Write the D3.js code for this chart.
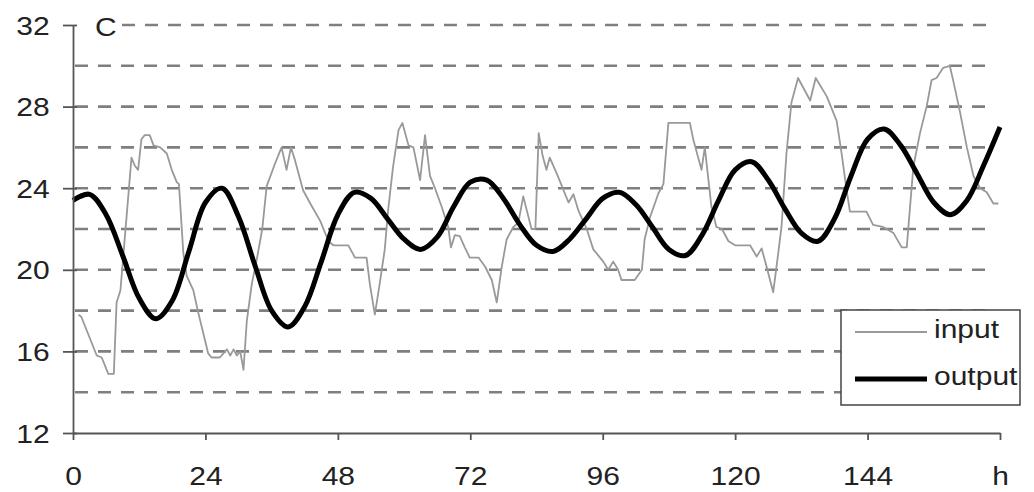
<!DOCTYPE html>
<html>
<head>
<meta charset="utf-8">
<script src="https://cdn.jsdelivr.net/npm/d3@7"></script>
<style>
    body { margin: 0; background: #fff; }
    svg { display: block; }
    text { font-family: "Liberation Sans", Arial, sans-serif; fill: #222; }
</style>
</head>
<body>
<div class="chart"></div>
<script>
// input temperature (hour, C)
const inputHours = [1.0, 1.5, 4.3, 5.2, 6.4, 7.4, 7.9, 8.6, 10.6, 11.2, 11.8, 12.4, 13.0, 13.9, 14.6, 15.8, 17.0, 17.9, 18.8, 19.2,
    20.0, 20.6, 21.8, 22.7, 23.6, 24.5, 25.1, 26.6, 27.9, 28.5, 29.1, 29.7, 30.3, 30.9, 31.5, 32.4, 33.3, 34.3, 35.1, 36.6,
    37.8, 38.7, 39.5, 40.2, 41.7, 43.0, 44.8, 46.3, 47.2, 49.9, 51.1, 53.2, 53.8, 54.7, 55.6, 56.5, 57.1, 58.0, 59.0, 59.7,
    60.8, 61.7, 62.9, 63.8, 64.7, 65.6, 66.8, 68.0, 68.5, 69.2, 70.1, 71.0, 71.9, 73.5, 74.7, 75.9, 76.8, 77.7, 78.6, 79.8,
    80.7, 81.6, 83.1, 83.8, 84.4, 85.1, 85.8, 86.4, 87.7, 88.6, 89.8, 90.7, 91.6, 93.1, 94.3, 96.1, 97.0, 97.9, 98.8, 99.4,
    101.8, 103.1, 103.6, 104.6, 106.1, 107.0, 107.9, 111.8, 112.4, 113.3, 113.9, 114.5, 115.7, 116.6, 117.6, 118.8, 120.0, 122.7, 123.9, 124.8,
    125.7, 126.9, 127.5, 128.4, 129.3, 130.2, 131.4, 133.6, 134.6, 136.6, 138.4, 139.3, 140.2, 140.8, 143.8, 145.0, 146.8, 148.7, 150.2, 151.1,
    151.7, 152.3, 153.5, 154.7, 155.6, 156.5, 157.7, 158.9, 159.5, 160.7, 162.0, 163.2, 164.4, 165.6, 166.8, 167.7];
const inputTemps = [17.8, 17.7, 15.8, 15.7, 14.9, 14.9, 18.4, 19.0, 25.5, 25.1, 24.9, 26.4, 26.6, 26.6, 26.1, 26.0, 25.7, 24.9, 24.3, 24.2,
    20.8, 19.7, 19.0, 17.9, 16.9, 15.9, 15.7, 15.7, 16.1, 15.8, 16.1, 15.8, 16.0, 15.1, 17.5, 19.3, 20.5, 22.0, 24.1, 25.2,
    26.0, 24.9, 26.0, 25.4, 23.9, 23.25, 22.4, 21.4, 21.2, 21.2, 20.6, 20.6, 19.3, 17.8, 19.35, 21.0, 22.9, 25.05, 26.85, 27.2,
    26.1, 26.0, 24.4, 26.6, 24.6, 24.0, 23.1, 22.1, 21.1, 21.7, 21.65, 21.1, 20.6, 20.6, 20.15, 19.5, 18.4, 20.15, 21.5, 22.1,
    22.3, 23.6, 22.0, 22.0, 26.7, 25.6, 24.9, 25.5, 24.7, 24.1, 23.3, 23.7, 22.9, 22.0, 21.0, 20.4, 20.0, 20.4, 20.0, 19.5,
    19.5, 20.0, 21.5, 22.6, 23.75, 24.2, 27.2, 27.2, 26.4, 25.5, 24.9, 26.0, 23.1, 22.1, 22.0, 21.4, 21.2, 21.2, 20.65, 21.05,
    20.15, 18.9, 20.15, 22.1, 25.7, 28.2, 29.4, 28.3, 29.4, 28.5, 27.3, 25.7, 23.9, 22.85, 22.85, 22.2, 22.1, 21.8, 21.1, 21.1,
    23.1, 25.05, 26.7, 28.0, 29.3, 29.4, 29.9, 30.0, 29.3, 27.8, 26.0, 24.6, 24.0, 23.8, 23.25, 23.25];

// output temperature, every 3 hours
const outputHours = [0, 3, 6, 9, 12, 15, 18, 21, 24, 27, 30, 33, 36, 39, 42, 45, 48, 51, 54, 57,
    60, 63, 66, 69, 72, 75, 78, 81, 84, 87, 90, 93, 96, 99, 102, 105, 108, 111, 114, 117,
    120, 123, 126, 129, 132, 135, 138, 141, 144, 147, 150, 153, 156, 159, 162, 165, 168];
const outputTemps = [23.4, 23.7, 22.7, 20.7, 18.6, 17.6, 18.5, 20.9, 23.3, 24.0, 22.6, 20.2, 18.0, 17.2, 18.2, 20.4, 22.7, 23.8, 23.5, 22.5,
    21.5, 21.0, 21.6, 23.1, 24.3, 24.4, 23.5, 22.2, 21.2, 20.9, 21.5, 22.5, 23.5, 23.8, 23.2, 22.1, 21.0, 20.7, 21.7, 23.4,
    24.9, 25.3, 24.4, 23.0, 21.8, 21.4, 22.5, 24.6, 26.4, 26.9, 26.1, 24.7, 23.3, 22.7, 23.4, 25.1, 27.0];

const xTicks = [0, 24, 48, 72, 96, 120, 144, 168];
const yTicks = [12, 16, 20, 24, 28, 32];
const gridValues = [14, 16, 18, 20, 22, 24, 26, 28, 30, 32];
const seriesNames = ['input', 'output'];

const width = 1034;
const height = 492;
const textStretch = 'scale(1.2,1)';

var svg = d3.select('.chart').append('svg')
    .attr('width', width)
    .attr('height', height);

/* Scale */
var xScale = d3.scaleLinear().domain([0, 168]).range([73, 1000]);
var yScale = d3.scaleLinear().domain([12, 32]).range([433, 25]);

/* Dashed gridlines */
svg.append('g')
    .attr('class', 'grid')
    .selectAll('line')
    .data(gridValues).enter()
    .append('line')
    .attr('x1', d => d === 32 ? 122 : xScale(0) + 2)
    .attr('x2', 990)
    .attr('y1', d => yScale(d))
    .attr('y2', d => yScale(d))
    .style('stroke', '#7f7f7f')
    .style('stroke-width', 2.6)
    .style('stroke-dasharray', '13,10');

/* Lines */
var inputLine = d3.line()
    .x((d, i) => xScale(inputHours[i]))
    .y(d => yScale(d));
var outputLine = d3.line()
    .x((d, i) => xScale(outputHours[i]))
    .y(d => yScale(d))
    .curve(d3.curveCatmullRom);

svg.append('path')
    .attr('d', inputLine(inputTemps))
    .style('fill', 'none')
    .style('stroke', '#999')
    .style('stroke-width', 1.8)
    .style('stroke-linejoin', 'round');

svg.append('path')
    .attr('d', outputLine(outputTemps))
    .style('fill', 'none')
    .style('stroke', '#000')
    .style('stroke-width', 5)
    .style('stroke-linejoin', 'round');

/* Axes */
var yAxis = d3.axisLeft(yScale).tickValues(yTicks).tickSizeInner(10).tickSizeOuter(0);
var xAxis = d3.axisBottom(xScale).tickValues(xTicks).tickSizeInner(7).tickSizeOuter(0)
    .tickFormat(d => d === 168 ? 'h' : d);

var gy = svg.append('g')
    .attr('transform', 'translate(' + xScale(0) + ',0)')
    .call(yAxis);
gy.selectAll('.tick line').attr('x1', 4);
gy.selectAll('.tick text')
    .attr('x', -19.5)
    .attr('dy', '0.36em')
    .attr('transform', textStretch);

var gx = svg.append('g')
    .attr('transform', 'translate(0,' + yScale(12) + ')')
    .call(xAxis);
gx.selectAll('.tick text')
    .attr('y', 52)
    .attr('dy', 0)
    .attr('transform', textStretch);

svg.selectAll('.domain, .tick line')
    .style('stroke', '#555')
    .style('stroke-width', 1.8);
svg.selectAll('.tick text')
    .style('font-size', '25px')
    .style('font-family', '"Liberation Sans", Arial, sans-serif')
    .attr('fill', '#222');

svg.append('text')
    .attr('transform', 'translate(95,36) ' + textStretch)
    .style('font-size', '25px')
    .text('C');

/* Legend */
var legend = svg.append('g').attr('class', 'legend');
legend.append('rect')
    .attr('x', 841).attr('y', 310)
    .attr('width', 179).attr('height', 95)
    .style('fill', '#fff')
    .style('stroke', '#444')
    .style('stroke-width', 1.5);

var items = legend.selectAll('.item')
    .data(seriesNames).enter()
    .append('g')
    .attr('transform', (d, i) => 'translate(0,' + (332 + i * 47) + ')');
items.append('line')
    .attr('x1', 855).attr('x2', 927)
    .style('stroke', d => d === 'input' ? '#999' : '#000')
    .style('stroke-width', d => d === 'input' ? 1.8 : 5);
items.append('text')
    .attr('transform', 'translate(934,6) ' + textStretch)
    .style('font-size', '25px')
    .text(d => d);
</script>
</body>
</html>
